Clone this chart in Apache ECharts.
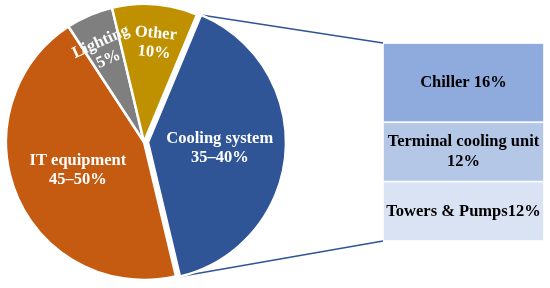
<!DOCTYPE html>
<html>
<head>
<meta charset="utf-8">
<script src="https://cdn.jsdelivr.net/npm/echarts@6/dist/echarts.min.js"></script>
<style>
html, body { margin: 0; padding: 0; background: #fff; }
#main { width: 550px; height: 288px; }
</style>
</head>
<body>
<div id="main"></div>
<script>
// pie: energy share of a data centre
var pieNames = ['Cooling system', 'IT equipment', 'Lighting', 'Other'];
var pieValues = [40, 44.5, 5.5, 10];
var pieLabels = ['Cooling system\n35–40%', 'IT equipment\n45–50%', 'Lighting\n5%', 'Other\n10%'];
var pieColors = ['#2F5597', '#C55A11', '#7F7F7F', '#BF9000'];

// breakdown of cooling system
var coolNames = ['Chiller', 'Terminal cooling unit', 'Towers & Pumps'];
var coolValues = [16, 12, 12];
var coolLabels = ['Chiller 16%', 'Terminal cooling unit\n12%', 'Towers & Pumps12%'];
var coolColors = ['#8FAADC', '#B4C7E7', '#DAE3F3'];

var cx = 144, cy = 142, R = 138;
var startAngle = 67.4;
var explode = 4;
var gridLeft = 383, gridTop = 43, gridW = 161, gridH = 198;
var serif = '"Liberation Serif", "Times New Roman", serif';

var total = 0;
var each = function (arr, fn) { for (var i = 0; i < arr.length; i++) fn(i, arr[i]); };
each(pieValues, function (i, v) { total += v; });

// angle from 12 o'clock, clockwise, in degrees
function midAngle(idx) {
    var cum = 0;
    for (var i = 0; i < idx; i++) cum += pieValues[i];
    return (90 - startAngle) + (cum + pieValues[idx] / 2) / total * 360;
}

var pieData = [];
each(pieValues, function (i, v) {
    var item = {
        name: pieNames[i],
        value: v,
        itemStyle: { color: pieColors[i] },
        label: { formatter: pieLabels[i] }
    };
    if (i === 0) item.selected = true;
    if (i === 2) item.label.rotate = 24;
    if (i === 3) item.label.rotate = -5;
    pieData.push(item);
});

var barSeries = [];
each(coolValues, function (i, v) {
    barSeries.push({
        type: 'bar',
        name: coolNames[i],
        stack: 'cool',
        data: [v],
        barWidth: '100%',
        itemStyle: { color: coolColors[i], borderColor: '#fff', borderWidth: 0.8 },
        label: {
            show: true,
            position: 'inside',
            formatter: coolLabels[i],
            color: '#000',
            fontFamily: serif,
            fontWeight: 'bold',
            fontSize: 16.5,
            lineHeight: 20
        },
        emphasis: { disabled: true },
        silent: true
    });
});

var chart = echarts.init(document.getElementById('main'));
var option = {
    animation: false,
    backgroundColor: '#fff',
    grid: { left: gridLeft, top: gridTop, width: gridW, height: gridH },
    xAxis: { type: 'category', data: ['Cooling'], show: false },
    yAxis: { type: 'value', min: 0, max: 40, inverse: true, show: false },
    series: [{
        type: 'pie',
        center: [cx, cy],
        radius: [0, R],
        startAngle: startAngle,
        clockwise: true,
        selectedMode: 'single',
        selectedOffset: explode,
        avoidLabelOverlap: false,
        silent: true,
        emphasis: { disabled: true },
        itemStyle: { borderColor: '#fff', borderWidth: 2.5 },
        label: {
            show: true,
            position: 'inside',
            color: '#fff',
            fontFamily: serif,
            fontWeight: 'bold',
            fontSize: 16.5,
            lineHeight: 19
        },
        labelLine: { show: false },
        labelLayout: function (params) {
            var i = params.dataIndex;
            if (i === 2 || i === 3) {
                // the two thin slices carry their text further out
                var a = midAngle(i) * Math.PI / 180;
                var r = R * 0.72;
                return { x: cx + r * Math.sin(a) + (i === 3 ? 3 : 0), y: cy - r * Math.cos(a) };
            }
        },
        data: pieData
    }].concat(barSeries)
};
chart.setOption(option);

// connector lines from the exploded cooling slice to the breakdown bar
var a0 = (90 - startAngle) * Math.PI / 180;
var a1 = ((90 - startAngle) + pieValues[0] / total * 360) * Math.PI / 180;
var am = midAngle(0) * Math.PI / 180;
var ox = cx + explode * Math.sin(am), oy = cy - explode * Math.cos(am);
var topY = chart.convertToPixel({ yAxisIndex: 0 }, 0);
var botY = chart.convertToPixel({ yAxisIndex: 0 }, 40);
chart.setOption({
    graphic: [{
        type: 'line',
        shape: { x1: ox + R * Math.sin(a0), y1: oy - R * Math.cos(a0), x2: gridLeft, y2: topY },
        style: { stroke: '#2F5597', lineWidth: 1.5 },
        silent: true
    }, {
        type: 'line',
        shape: { x1: ox + R * Math.sin(a1), y1: oy - R * Math.cos(a1), x2: gridLeft, y2: botY },
        style: { stroke: '#2F5597', lineWidth: 1.5 },
        silent: true
    }]
});
</script>
</body>
</html>
